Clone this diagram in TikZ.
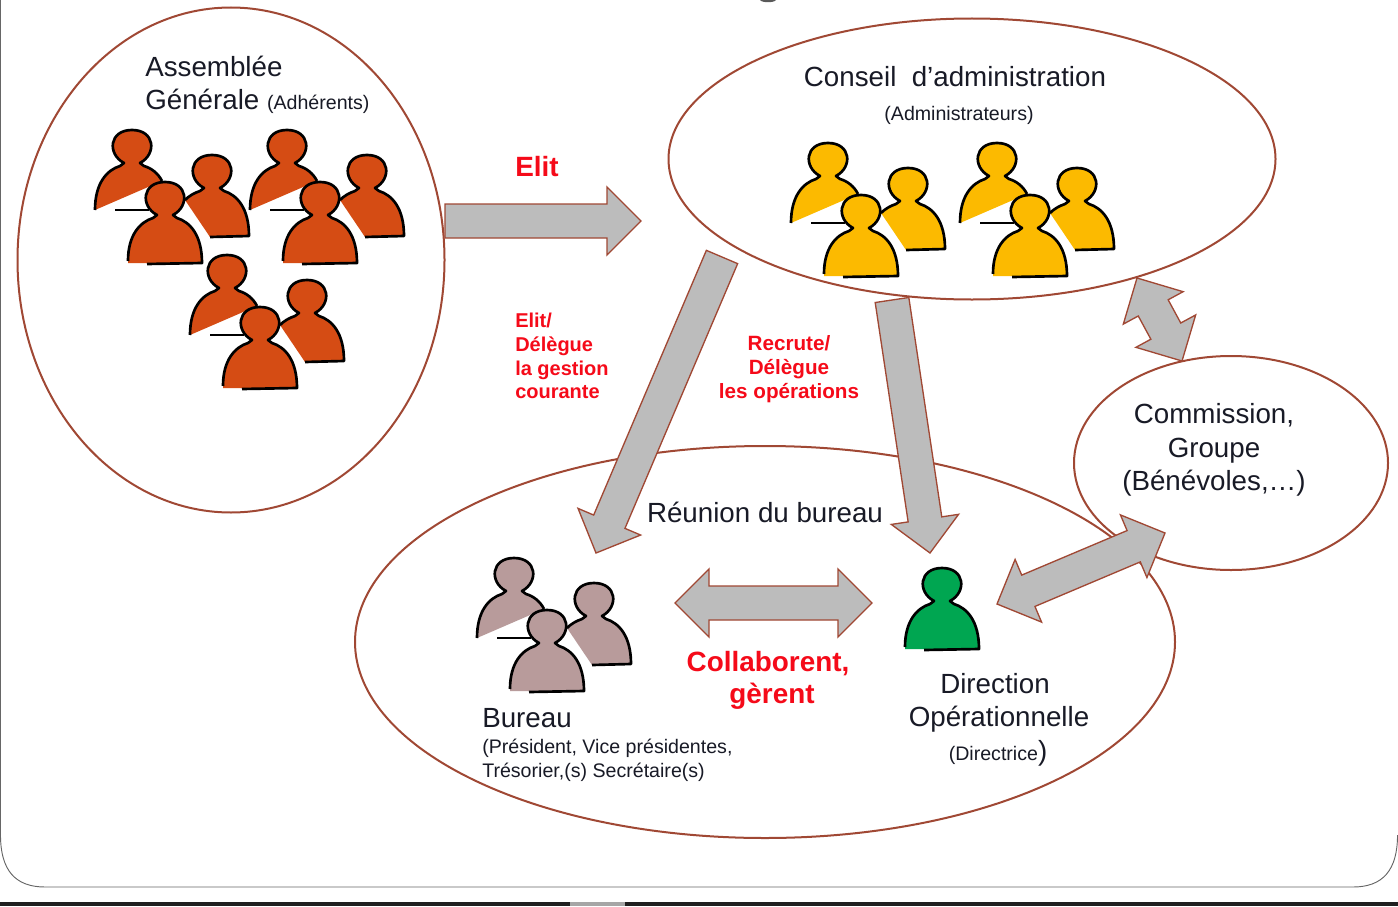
\documentclass[tikz,border=0pt]{standalone}
\usepackage{fontspec}
\setmainfont{Liberation Sans}
\usepackage{tikz}
\usetikzlibrary{calc,shapes.geometric}

\definecolor{edgebrown}{RGB}{160,72,52}
\definecolor{arrowgray}{RGB}{188,188,188}
\definecolor{inkdark}{RGB}{24,26,38}
\definecolor{alertred}{RGB}{245,10,25}
\definecolor{adherent}{RGB}{213,76,20}
\definecolor{admin}{RGB}{252,186,0}
\definecolor{bureau}{RGB}{184,155,155}
\definecolor{direction}{RGB}{0,166,81}

\tikzset{
  cercle/.style={draw=edgebrown,line width=1.5pt,ellipse,fill=white,inner sep=0pt},
  bigtxt/.style={text=inkdark,font=\fontsize{20.8}{25}\selectfont,inner sep=0pt,align=center},
  smalltxt/.style={text=inkdark,font=\fontsize{14.7}{17.5}\selectfont,inner sep=0pt,align=left},
  redtxt/.style={text=alertred,font=\bfseries\fontsize{20.9}{24.5}\selectfont,inner sep=0pt,align=center},
  redsmall/.style={text=alertred,font=\bfseries\fontsize{15}{17.8}\selectfont,inner sep=0pt},
  blockarrow/.style={draw=edgebrown,line width=1pt,fill=arrowgray,line join=miter},
  humain/.style={yscale=-1},
  pics/personne/.style={code={
    \path[fill=#1] (-37,63) .. controls (-37,35) and (-25,22) .. (-12,18) -- (-8,15) .. controls (-25,6) and (-23,-18) .. (0,-18) .. controls (23,-18) and (25,6) .. (8,15) -- (12,18) .. controls (25,22) and (37,35) .. (37,63) -- cycle;
    \draw[line width=2pt,line join=round] (-37,61) .. controls (-37,35) and (-25,22) .. (-12,18) -- (-8,15) .. controls (-25,6) and (-23,-18) .. (0,-18) .. controls (23,-18) and (25,6) .. (8,15) -- (12,18) .. controls (25,22) and (37,35) .. (37,63) -- (-18,64);
  }},
  pics/trio/.style={code={
    % back left, cut along the diagonal
    \begin{scope}[shift={(-33,-52)}]
    \path[fill=#1] (-37,62) .. controls (-37,35) and (-25,22) .. (-12,18) -- (-8,15) .. controls (-25,6) and (-23,-18) .. (0,-18) .. controls (23,-18) and (25,6) .. (8,15) -- (12,18) .. controls (19,20) and (26,25) .. (30,33) -- cycle;
    \draw[line width=2pt,line join=round] (-37,62) .. controls (-37,35) and (-25,22) .. (-12,18) -- (-8,15) .. controls (-25,6) and (-23,-18) .. (0,-18) .. controls (23,-18) and (25,6) .. (8,15) -- (12,18) .. controls (19,20) and (26,25) .. (30,33);
    \end{scope}
    \draw[line width=2pt] (-50,10) -- (-16,10);
    % back right
    \begin{scope}[shift={(47,-27)}]
    \path[fill=#1] (-27,27) .. controls (-23,23) and (-18,20) .. (-12,18) -- (-8,15) .. controls (-25,6) and (-23,-18) .. (0,-18) .. controls (23,-18) and (25,6) .. (8,15) -- (12,18) .. controls (25,22) and (37,35) .. (37,63) -- (-2,64) -- cycle;
    \draw[line width=2pt,line join=round] (-27,27) .. controls (-23,23) and (-18,20) .. (-12,18) -- (-8,15) .. controls (-25,6) and (-23,-18) .. (0,-18) .. controls (23,-18) and (25,6) .. (8,15) -- (12,18) .. controls (25,22) and (37,35) .. (37,63) -- (-2,64);
    \end{scope}
    % front
    \pic[humain] {personne=#1};
  }}
}

% block arrows: #1 tail, #2 tip
\newcommand{\fleche}[2]{
  \coordinate (hb) at ($(#2)!34*0.75pt!(#1)$);
  \draw[blockarrow] ($(#1)!17*0.75pt!90:(#2)$) -- ($(hb)!17*0.75pt!90:(#2)$) -- ($(hb)!34*0.75pt!90:(#2)$) -- (#2) -- ($(hb)!34*0.75pt!-90:(#2)$) -- ($(hb)!17*0.75pt!-90:(#2)$) -- ($(#1)!17*0.75pt!-90:(#2)$) -- cycle;
}
\newcommand{\doublefleche}[2]{
  \coordinate (hb) at ($(#2)!34*0.75pt!(#1)$);
  \coordinate (ha) at ($(#1)!34*0.75pt!(#2)$);
  \draw[blockarrow] (#1) -- ($(ha)!34*0.75pt!-90:(#2)$) -- ($(ha)!17*0.75pt!-90:(#2)$) -- ($(hb)!17*0.75pt!-90:(#2)$) -- ($(hb)!34*0.75pt!-90:(#2)$) -- (#2) -- ($(hb)!34*0.75pt!90:(#2)$) -- ($(hb)!17*0.75pt!90:(#2)$) -- ($(ha)!17*0.75pt!90:(#2)$) -- ($(ha)!34*0.75pt!90:(#2)$) -- cycle;
}

\begin{document}
\begin{tikzpicture}[x=0.75pt,y=0.75pt,yscale=-1,xscale=1]
\useasboundingbox (0,0) rectangle (1398,906);

% frame of the slide
\fill[black!88] (0,902) rectangle (1398,906);
\fill[black!35] (570,902) rectangle (625,906);
\draw[black!60,line width=0.7pt] (0.5,-5) -- (0.5,835) .. controls (0.5,870) and (15,887) .. (45,887) -- (1353,887) .. controls (1383,887) and (1397.5,870) .. (1397.5,835);
\fill[black!65] (760,0) .. controls (762,3) and (774,3) .. (776,0) -- cycle;

% ellipses
\node[cercle,minimum width=427*0.75pt,minimum height=505*0.75pt] (assemblee) at (231,260) {};
\node[cercle,minimum width=607*0.75pt,minimum height=281*0.75pt] (conseil) at (972,159) {};
\node[cercle,minimum width=820*0.75pt,minimum height=392*0.75pt] (reunion) at (765,642) {};
\node[cercle,minimum width=314*0.75pt,minimum height=214*0.75pt] (commission) at (1231,463) {};

% people
\pic[humain] (adh1) at (165,200) {trio=adherent};
\pic[humain] (adh2) at (320,200) {trio=adherent};
\pic[humain] (adh3) at (260,325) {trio=adherent};
\pic[humain] (adm1) at (861,213) {trio=admin};
\pic[humain] (adm2) at (1030,213) {trio=admin};
\pic[humain] (bur) at (547,628) {trio=bureau};
\pic[humain] (dir) at (942,586) {personne=direction};

% ends of the block arrows
\coordinate (elitA) at (445,221);
\coordinate (elitB) at (641,221);
\coordinate (delegA) at (722,257);
\coordinate (delegB) at (596,553);
\coordinate (recrA) at (892,300);
\coordinate (recrB) at (930,553);
\coordinate (collabA) at (675,603);
\coordinate (collabB) at (872,603);
\coordinate (opA) at (997,604);
\coordinate (opB) at (1165,533);
\coordinate (comA) at (1137,278);
\coordinate (comB) at (1182,361);

\fleche{elitA}{elitB}
\fleche{delegA}{delegB}
\fleche{recrA}{recrB}
\doublefleche{collabA}{collabB}
\doublefleche{opA}{opB}
\doublefleche{comA}{comB}

% Text Node
\node[bigtxt,anchor=west,align=left] (tAssemblee) at (145,66) {Assemblée};
\node[bigtxt,anchor=base west] (tGenerale) at (145,109) {Générale {\fontsize{14.7}{17}\selectfont (Adhérents)}};
\node[bigtxt] (tConseil) at (955,77) {Conseil\ \ d’administration};
\node[smalltxt] (tAdmin) at (959,115) {(Administrateurs)};
\node[redtxt] (tElit) at (537,167) {Elit};
\node[redsmall,anchor=north west,align=left] (tDelegue) at (515,313) {Elit/\\Délègue\\la gestion\\courante};
\node[redsmall,align=center,font=\bfseries\fontsize{15.5}{18.2}\selectfont] (tRecrute) at (789,369) {Recrute/\\Délègue\\les opérations};
\node[bigtxt] (tReunion) at (765,512) {Réunion du bureau};
\node[bigtxt] (tCommission) at (1214,450) {Commission,\\Groupe\\(Bénévoles,…)};
\node[redtxt] (tCollab) at (768,664) {Collaborent,};
\node[redtxt] (tGerent) at (772,696) {gèrent};
\node[bigtxt,anchor=west] (tBureau) at (482,718) {Bureau};
\node[smalltxt,anchor=north west] (tPresident) at (482,739) {(Président, Vice présidentes,\\Trésorier,(s) Secrétaire(s)};
\node[bigtxt] (tDirection) at (995,684) {Direction};
\node[bigtxt] (tOperation) at (999,719) {Opérationnelle};
\node[smalltxt] (tDirectrice) at (998,753) {(Directrice{\fontsize{20.8}{24}\selectfont)}};

\end{tikzpicture}
\end{document}
